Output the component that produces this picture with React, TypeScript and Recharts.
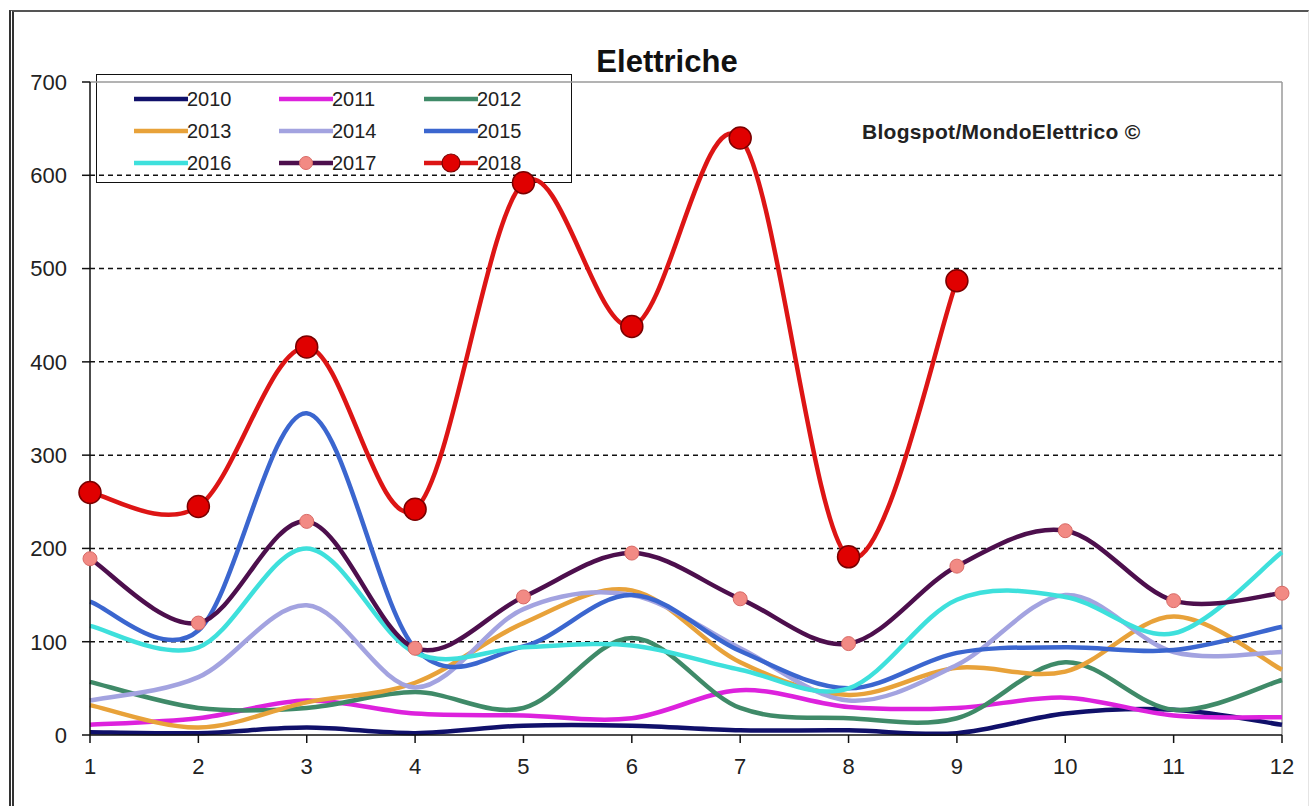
import React from "react";
import {
  LineChart, Line, XAxis, YAxis, ReferenceLine,
} from "recharts";

const months = [1, 2, 3, 4, 5, 6, 7, 8, 9, 10, 11, 12];
const yTicks = [0, 100, 200, 300, 400, 500, 600, 700];
const gridValues = [100, 200, 300, 400, 500, 600];

const y2010 = [3, 2, 8, 2, 10, 10, 5, 5, 2, 23, 27, 11];
const y2011 = [11, 18, 37, 23, 21, 18, 48, 30, 29, 40, 21, 19];
const y2012 = [57, 29, 29, 46, 29, 104, 29, 18, 18, 78, 27, 59];
const y2013 = [32, 8, 35, 56, 120, 155, 78, 43, 72, 68, 127, 70];
const y2014 = [37, 62, 139, 51, 135, 150, 93, 37, 75, 150, 89, 89];
const y2015 = [143, 112, 345, 93, 95, 150, 90, 50, 88, 94, 91, 116];
const y2016 = [117, 94, 200, 88, 94, 96, 70, 50, 145, 148, 109, 196];
const y2017 = [189, 120, 229, 93, 148, 195, 146, 98, 181, 219, 144, 152];
const y2018 = [260, 245, 416, 242, 592, 438, 640, 191, 487, null, null, null];

const SERIES = [
  { key: "2010", values: y2010, color: "#10106a" },
  { key: "2011", values: y2011, color: "#dd22dd" },
  { key: "2012", values: y2012, color: "#3f8a68" },
  { key: "2013", values: y2013, color: "#e8a23a" },
  { key: "2014", values: y2014, color: "#a3a3e0" },
  { key: "2015", values: y2015, color: "#3b66cf" },
  { key: "2016", values: y2016, color: "#3ee0dc" },
  { key: "2017", values: y2017, color: "#4d0f4d" },
  { key: "2018", values: y2018, color: "#dd1515" },
];

const data = months.map((m, i) => {
  const row: Record<string, number | null> = { m };
  SERIES.forEach((s) => (row[s.key] = s.values[i]));
  return row;
});

// Excel-like smoothed line (uniform Catmull-Rom as cubic beziers)
function excelCurve(context: any) {
  let pts: [number, number][] = [];
  return {
    areaStart() {},
    areaEnd() {},
    lineStart() {
      pts = [];
    },
    lineEnd() {
      if (!pts.length) return;
      context.moveTo(pts[0][0], pts[0][1]);
      for (let i = 0; i < pts.length - 1; i++) {
        const p0 = pts[i - 1] || pts[i];
        const p1 = pts[i];
        const p2 = pts[i + 1];
        const p3 = pts[i + 2] || p2;
        context.bezierCurveTo(
          p1[0] + (p2[0] - p0[0]) / 6, p1[1] + (p2[1] - p0[1]) / 6,
          p2[0] - (p3[0] - p1[0]) / 6, p2[1] - (p3[1] - p1[1]) / 6,
          p2[0], p2[1],
        );
      }
    },
    point(x: number, y: number) {
      pts.push([+x, +y]);
    },
  };
}

const FONT = "'Liberation Sans', Arial, sans-serif";

function LegendBox() {
  return (
    <div
      style={{
        position: "absolute", left: 96, top: 74, width: 476, height: 109, boxSizing: "border-box",
        border: "1.5px solid #111", background: "#fff", fontFamily: FONT,
      }}
    >
      {SERIES.map((s, i) => {
        const col = i % 3;
        const row = Math.floor(i / 3);
        const left = 37 + col * 145;
        const top = 24 + row * 32;
        return (
          <div key={s.key} style={{ position: "absolute", left, top: top - 12, height: 24, width: 140 }}>
            <svg width={54} height={24} style={{ position: "absolute", left: 0, top: 0 }}>
              <line x1={0} y1={12} x2={54} y2={12} stroke={s.color} strokeWidth={4.5} />
              {s.key === "2017" && (
                <circle cx={27} cy={12} r={6.5} fill="#f28a84" stroke="#d86a66" strokeWidth={1} />
              )}
              {s.key === "2018" && (
                <circle cx={27} cy={12} r={9} fill="#e00000" stroke="#7a0000" strokeWidth={1.2} />
              )}
            </svg>
            <span
              style={{
                position: "absolute", left: 53, top: 1, fontSize: 20,
                lineHeight: "22px", color: "#222",
              }}
            >
              {s.key}
            </span>
          </div>
        );
      })}
    </div>
  );
}

export default function App() {
  return (
    <div
      style={{
        position: "absolute", left: 0, top: 0, width: 1316, height: 806,
        background: "#fff", fontFamily: FONT, overflow: "hidden",
      }}
    >
      <div
        style={{
          position: "absolute", left: 9, top: 10, width: 1300, height: 800,
          borderTop: "2px solid #555", borderLeft: "5px double #333",
          borderRight: "1px solid #e4e4e4", boxSizing: "border-box",
        }}
      />
      <div
        style={{
          position: "absolute", left: 517, top: 46, width: 300, textAlign: "center",
          fontSize: 31, fontWeight: "bold", lineHeight: "31px", color: "#111",
        }}
      >
        Elettriche
      </div>
      <div
        style={{
          position: "absolute", left: 862, top: 121, fontSize: 21, letterSpacing: 0.3,
          fontWeight: "bold", lineHeight: "22px", color: "#222", whiteSpace: "nowrap",
        }}
      >
        Blogspot/MondoElettrico ©
      </div>
      <LegendBox />
      <div style={{ position: "absolute", left: 0, top: 0 }}>
        <LineChart
          width={1316}
          height={806}
          data={data}
          margin={{ top: 82, right: 34, left: 10, bottom: 31 }}
        >
          {gridValues.map((v) => (
            <ReferenceLine key={v} y={v} stroke="#111" strokeWidth={1.5} strokeDasharray="5 4" />
          ))}
          <ReferenceLine y={700} stroke="#9a9a9a" strokeWidth={1.5} />
          <ReferenceLine x={12} stroke="#9a9a9a" strokeWidth={1.5} />
          <XAxis
            dataKey="m"
            type="number"
            domain={[1, 12]}
            ticks={months}
            interval={0}
            height={40}
            axisLine={{ stroke: "#111", strokeWidth: 1.5 }}
            tickLine={{ stroke: "#111", strokeWidth: 1.5 }}
            tickSize={8}
            tickMargin={15}
            tick={{ fontSize: 22, fill: "#222", fontFamily: FONT }}
          />
          <YAxis
            type="number"
            domain={[0, 700]}
            ticks={yTicks}
            interval={0}
            width={80}
            axisLine={{ stroke: "#111", strokeWidth: 1.5 }}
            tickLine={{ stroke: "#111", strokeWidth: 1.5 }}
            tickSize={8}
            tickMargin={15}
            tick={{ fontSize: 22, fill: "#222", fontFamily: FONT }}
          />
          {SERIES.map((s) => (
            <Line
              key={s.key}
              dataKey={s.key}
              type={excelCurve as any}
              stroke={s.color}
              strokeWidth={4.5}
              isAnimationActive={false}
              connectNulls={false}
              dot={
                s.key === "2017"
                  ? { r: 7, fill: "#f28a84", stroke: "#d86a66", strokeWidth: 1 }
                  : s.key === "2018"
                  ? { r: 11, fill: "#e00000", stroke: "#7a0000", strokeWidth: 1.5 }
                  : false
              }
              activeDot={false}
            />
          ))}
        </LineChart>
      </div>
    </div>
  );
}
